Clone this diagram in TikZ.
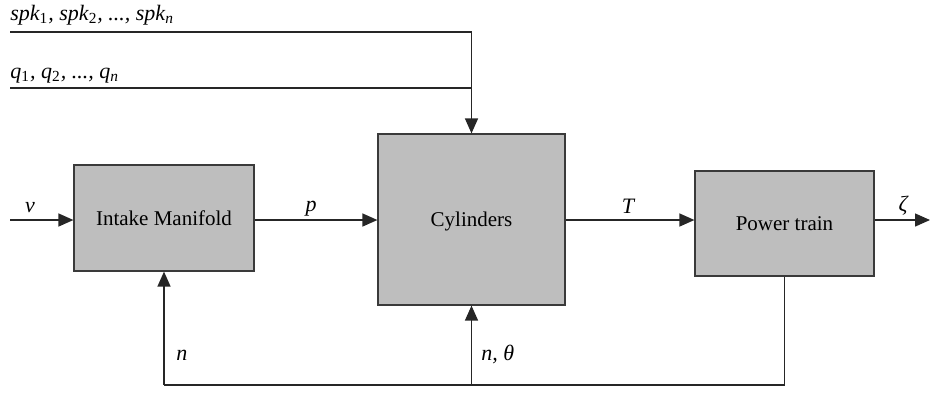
\documentclass[tikz,border=0pt]{standalone}
\usepackage{fontspec}
\setmainfont{Liberation Serif}
\usetikzlibrary{arrows.meta, positioning}
\definecolor{blkFill}{HTML}{BEBEBE}
\definecolor{blkLine}{HTML}{3A3A3A}
\newcommand{\sbu}[1]{\textsubscript{\upshape #1}}

\begin{document}
\begin{tikzpicture}[x=0.5pt, y=-0.5pt,
      every node/.style={font=\fontsize{10.5}{12}\selectfont},
      blk/.style={draw=blkLine, line width=0.6pt, fill=blkFill, inner sep=0pt},
      ln/.style={line width=0.7pt, draw=black!85},
      ar/.style={ln, -{Triangle[length=7.5pt, width=6.5pt]}},
      lbl/.style={anchor=base, inner sep=0pt, font=\fontsize{11}{13}\selectfont\itshape}]
    \useasboundingbox (0,0) rectangle (930,392);
    \node[blk, minimum width=90pt, minimum height=53pt, text depth=-3pt]   (im)  at (164,218)   {Intake Manifold};
    \node[blk, minimum width=93.5pt, minimum height=85.5pt, text depth=-3pt] (cyl) at (471.5,219.5) {Cylinders};
    \node[blk, minimum width=89.5pt, minimum height=52.5pt, text depth=-3pt] (pt)  at (784.5,223.5) {Power train};
    \coordinate (vin)  at (10,220);
    \coordinate (zout) at (930,220);
    \coordinate (spk)  at (10,32);
    \coordinate (q)    at (10,88);
    \coordinate (fbl)  at (164,385);
    \draw[ar] (vin) -- (vin -| im.west);
    \draw[ar] (im.east |- vin) -- (cyl.west |- vin);
    \draw[ar] (cyl.east |- vin) -- (pt.west |- vin);
    \draw[ar] (pt.east |- vin) -- (zout);
    \draw[ar] (spk) -| (cyl.north);
    \draw[ln] (q) -- (q -| cyl.north);
    \draw[ln] (pt.south) |- (fbl);
    \draw[ar] (fbl) -- (im.south);
    \draw[ar] (cyl.south |- fbl) -- (cyl.south);
    \node[lbl, anchor=base west] (spkl) at (10,20) {spk\sbu{1}, spk\sbu{2}, ..., spk\textsubscript{n}};
    \node[lbl, anchor=base west] (ql)   at (10,78) {q\sbu{1}, q\sbu{2}, ..., q\textsubscript{n}};
    \node[lbl] (vl) at (30,212)  {v};
    \node[lbl] (pl) at (311,211) {p};
    \node[lbl] (tl) at (628,213) {T};
    \node[lbl] (zl) at (903,211) {ζ};
    \node[lbl, anchor=base west] (nl)  at (176,360) {n};
    \node[lbl, anchor=base west] (ntl) at (481,360) {n, θ};
  \end{tikzpicture}
\end{document}
